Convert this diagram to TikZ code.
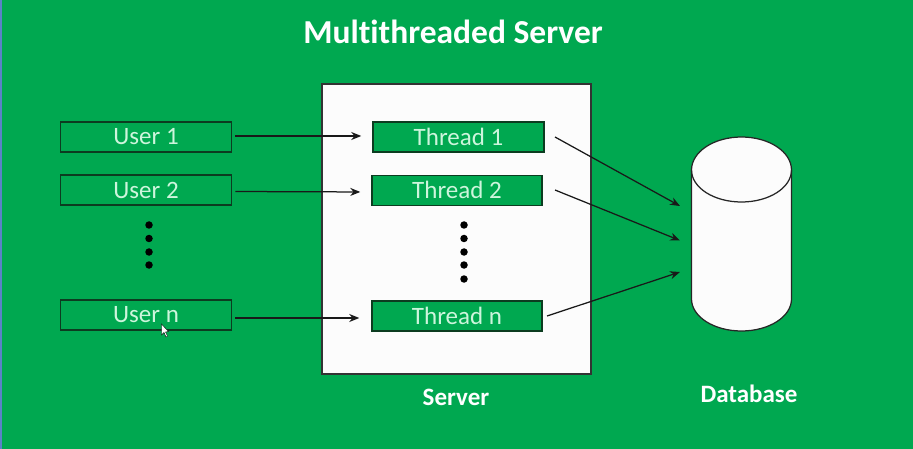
\documentclass[tikz,border=0pt]{standalone}
\usepackage{fontspec}
\setmainfont[Ligatures=CommonOff]{Carlito}
\usetikzlibrary{arrows.meta}
\definecolor{bggreen}{RGB}{0,168,80}
\definecolor{sidebar}{RGB}{90,130,200}
\definecolor{boxline}{RGB}{12,60,32}
\definecolor{paper}{RGB}{252,252,252}
\definecolor{lbl}{RGB}{205,245,220}
\tikzset{
  labelbox/.style={draw=boxline,line width=1.5pt,fill=bggreen,text=lbl,minimum width=#1,minimum height=30pt,inner sep=0pt,font=\fontsize{25}{27}\selectfont,anchor=center},
  labelbox/.default=171pt,
  flow/.style={draw=black!90,line width=1.25pt,-{Stealth[length=10pt,width=8pt]}},
  vdot/.style={circle,fill=black,minimum size=7.5pt,inner sep=0pt},
  heading/.style={text=white,font=\bfseries\fontsize{#1}{#1}\selectfont},
}
\begin{document}
\begin{tikzpicture}[x=1pt,y=-1pt]
\useasboundingbox (0,0) rectangle (913,449);
\fill[bggreen] (0,0) rectangle (913,449);
\fill[sidebar] (0,0) rectangle (2,449);
\node[heading=33.5] (title) at (453,32) {Multithreaded Server};
\draw[black!80,line width=1.25pt,fill=paper] (322,84) rectangle (591,374);
\node[heading=25] (server) at (456,397.5) {Server};
\node[heading=25] (database) at (749,394) {Database};
\node[labelbox] (u1) at (146,137) {User 1};
\node[labelbox] (u2) at (146,190) {User 2};
\node[labelbox] (un) at (146,315) {User n};
\node[labelbox] (t1) at (458.5,137) {\raisebox{0.5pt}{Thread 1}};
\node[labelbox=170pt] (t2) at (457,190.5) {\raisebox{1pt}{Thread 2}};
\node[labelbox=170pt] (tn) at (457,316) {\raisebox{0.5pt}{Thread n}};
\foreach \y in {225,238.5,252,265} \node[vdot] at (149,\y) {};
\foreach \y in {225,238.5,252,265,279} \node[vdot] at (464,\y) {};
\coordinate (d1) at (680,206);
\coordinate (d2) at (680,240.5);
\coordinate (d3) at (680,272);
\coordinate (s1) at (555,137);
\coordinate (s2) at (555,190);
\coordinate (s3) at (547,316);
\draw[flow,shorten <=3pt,shorten >=11pt] ([yshift=1pt]u1.east) -- ([yshift=1pt]t1.west);
\draw[flow,shorten <=3pt,shorten >=11pt] ([yshift=-1.5pt]u2.east) -- ([yshift=-1.5pt]t2.west);
\draw[flow,shorten <=3pt,shorten >=12pt] ([yshift=-3pt]un.east) -- ([yshift=-2pt]tn.west);
\draw[flow] (s1) -- (d1);
\draw[flow] (s2) -- (d2);
\draw[flow] (s3) -- (d3);
\draw[black!85,line width=1.25pt,fill=paper] (691.5,170) -- (691.5,299) arc[start angle=180,end angle=0,x radius=50,y radius=32] -- (791.5,170) arc[start angle=0,end angle=-180,x radius=50,y radius=33] -- cycle;
\draw[black!85,line width=1.25pt] (691.5,170) arc[start angle=180,end angle=0,x radius=50,y radius=32];
\draw[black,line width=0.4pt,fill=white] (161.5,324) -- (161.5,335) -- (164,332.5) -- (166,337) -- (167.5,336) -- (165.5,332) -- (168.5,331.5) -- cycle;
\end{tikzpicture}
\end{document}
